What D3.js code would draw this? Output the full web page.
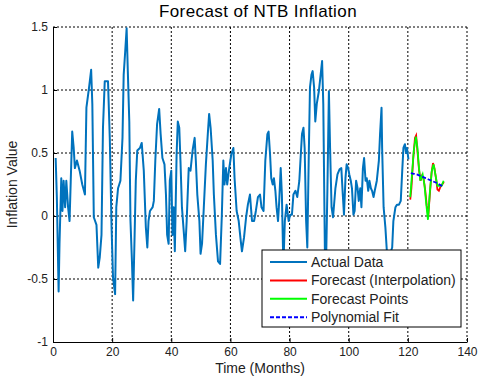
<!DOCTYPE html>
<html>
<head>
<meta charset="utf-8">
<script src="https://cdn.jsdelivr.net/npm/d3@7"></script>
<style>
body { margin: 0; background: #fff; }
svg { font-family: "Liberation Sans", Arial, sans-serif; }
.axis text { font-size: 12px; fill: #222; }
.grid line { stroke: #000; stroke-dasharray: 2,2; stroke-width: 1; }
</style>
</head>
<body>
<svg width="480" height="382"></svg>
<script>
// actual series (month, value)
var actualTime = [0.9, 1.3, 1.9, 2.2, 2.8, 3.2, 3.6, 4.1, 4.5, 5.1, 5.6, 6.0, 6.5, 7.0, 7.4, 8.1, 9.0, 9.9, 10.8, 11.3,
    12.2, 12.9, 13.3, 13.8, 14.7, 15.3, 15.8, 16.4, 16.9, 17.5, 18.6, 19.2, 19.8, 20.3, 21.0, 21.4, 22.0, 22.8, 23.5, 23.9,
    24.4, 24.9, 25.3, 25.8, 26.2, 26.7, 27.1, 27.6, 28.0, 28.5, 29.4, 30.0, 30.7, 31.4, 31.9, 32.3, 32.8, 33.7, 34.1, 34.6,
    35.2, 35.9, 36.4, 37.0, 37.7, 38.2, 38.6, 39.1, 39.5, 40.0, 40.4, 40.8, 41.2, 41.8, 42.2, 42.7, 43.1, 43.6, 44.3, 44.7,
    45.2, 45.9, 46.5, 47.2, 47.9, 48.3, 48.8, 49.5, 49.9, 50.4, 51.0, 51.7, 52.4, 52.8, 53.3, 54.0, 54.4, 55.1, 55.8, 56.5,
    57.1, 57.6, 58.0, 58.5, 58.9, 59.6, 60.3, 61.0, 61.4, 62.1, 62.8, 63.5, 63.9, 64.6, 65.3, 65.9, 66.6, 67.3, 68.0, 68.6,
    69.3, 70.0, 70.5, 71.2, 71.8, 72.5, 72.9, 73.4, 73.8, 74.3, 74.7, 75.2, 75.6, 76.1, 76.5, 77.0, 77.4, 77.9, 78.4, 79.0,
    79.7, 80.2, 80.8, 81.3, 82.0, 82.6, 83.3, 83.8, 84.2, 84.7, 85.1, 85.6, 86.0, 86.5, 86.9, 87.4, 87.8, 88.3, 88.7, 89.2,
    89.9, 90.5, 91.0, 91.4, 92.0, 92.4, 92.8, 93.3, 93.7, 94.2, 94.7, 95.5, 96.2, 96.9, 97.5, 98.0, 98.4, 98.9, 99.3, 99.8,
    100.2, 100.7, 101.1, 101.6, 102.0, 102.5, 103.0, 103.4, 103.9, 104.3, 104.8, 105.2, 105.7, 106.1, 106.6, 107.0, 107.5, 107.9, 108.4, 108.8,
    109.5, 110.2, 110.6, 111.1, 111.3, 111.8, 112.4, 112.9, 113.3, 114.0, 114.7, 115.1, 115.8, 116.3, 117.0, 117.6, 118.1, 118.5, 119.0, 119.4,
    119.7, 120.2];
var actualValue = [0.46, 0.15, -0.60, -0.22, 0.30, 0.04, 0.28, 0.07, 0.28, 0.07, -0.04, 0.28, 0.67, 0.54, 0.38, 0.44, 0.36, 0.25, 0.17, 0.86,
    1.02, 1.16, 0.89, -0.01, -0.07, -0.41, -0.33, -0.15, 0.70, 1.07, 1.07, 0.62, -0.09, -0.49, -0.62, 0.07, 0.22, 0.28, 0.62, 1.12,
    1.30, 1.49, 1.15, 0.75, -0.04, -0.36, -0.67, -0.15, 0.28, 0.52, 0.54, 0.58, 0.36, -0.09, -0.25, -0.04, 0.04, 0.07, 0.12, 0.44,
    0.73, 0.85, 0.65, 0.46, 0.41, 0.17, -0.15, -0.22, 0.28, 0.36, -0.15, 0.07, -0.28, 0.49, 0.75, 0.70, 0.44, 0.07, -0.15, -0.28,
    -0.04, 0.38, 0.36, 0.52, 0.62, 0.44, 0.17, -0.04, -0.30, -0.22, 0.07, 0.41, 0.67, 0.81, 0.70, 0.44, 0.17, -0.15, -0.36, -0.38,
    0.01, 0.44, 0.25, 0.38, 0.25, 0.38, 0.49, 0.54, 0.30, 0.04, -0.04, -0.20, -0.28, -0.17, -0.01, 0.09, 0.17, -0.04, -0.04, 0.04,
    0.15, 0.17, 0.07, 0.04, 0.44, 0.65, 0.67, 0.49, 0.30, 0.25, 0.30, 0.20, 0.07, -0.04, 0.12, 0.38, 0.17, -0.40, -0.04, 0.09,
    -0.04, 0.01, 0.01, 0.17, 0.20, 0.15, 0.28, 0.49, 0.65, 0.70, 0.54, -0.04, -0.25, 0.49, 1.02, 1.12, 1.15, 1.02, 0.75, 0.89,
    0.99, 1.12, 1.23, 0.89, -0.40, -0.30, 0.22, 0.99, 0.54, 0.07, -0.01, 0.22, 0.33, 0.37, 0.38, 0.17, 0.01, 0.30, 0.41, 0.38,
    0.33, 0.28, 0.22, 0.01, 0.04, 0.28, 0.22, 0.12, 0.22, 0.07, 0.38, 0.46, 0.28, 0.30, 0.20, 0.28, 0.22, 0.20, 0.15, 0.20,
    0.28, 0.44, 0.65, 0.86, 0.54, 0.07, -0.09, -0.28, -0.40, -0.30, -0.25, -0.04, 0.07, 0.09, 0.09, 0.12, 0.36, 0.54, 0.57, 0.50,
    0.54, 0.45];

// forecast (interpolation)
var interpTime = [120.8, 121.2, 121.8, 122.4, 122.8, 123.3, 123.8, 124.3, 124.8, 125.3, 125.9, 126.4, 126.9, 127.4, 128.0, 128.5, 129.0, 129.5, 130.0, 130.5, 131.0, 131.6, 132.2];
var interpValue = [0.13, 0.22, 0.45, 0.62, 0.64, 0.50, 0.36, 0.28, 0.32, 0.30, 0.20, 0.08, 0.00, 0.16, 0.34, 0.42, 0.38, 0.30, 0.21, 0.20, 0.23, 0.25, 0.27];

// forecast points
var pointTime = [120.8, 121.3, 122.0, 122.7, 123.2, 123.7, 124.2, 125.0, 125.6, 126.2, 126.8, 127.4, 128.1, 128.7, 129.3, 130.0, 130.7, 131.4, 132.1];
var pointValue = [0.15, 0.30, 0.52, 0.63, 0.55, 0.40, 0.28, 0.33, 0.25, 0.10, -0.03, 0.18, 0.36, 0.41, 0.33, 0.24, 0.24, 0.24, 0.28];

// polynomial fit
var polyTime = [121, 122, 123, 124, 125, 126, 127, 128, 129, 130, 131, 132];
var polyValue = [0.34, 0.335, 0.33, 0.32, 0.31, 0.30, 0.29, 0.28, 0.27, 0.26, 0.245, 0.235];

var xTicks = [0, 20, 40, 60, 80, 100, 120, 140];
var yTicks = [-1, -0.5, 0, 0.5, 1, 1.5];
var legendNames = ["Actual Data", "Forecast (Interpolation)", "Forecast Points", "Polynomial Fit"];
var legendColors = ["#0072BD", "#FF0000", "#00FF00", "#0000FF"];

var svg = d3.select("svg"),
    margin = {top: 27, right: 13, bottom: 40, left: 53},
    width = 480 - margin.left - margin.right,
    height = 382 - margin.top - margin.bottom;
var g = svg.append("g").attr("transform", "translate(" + margin.left + "," + margin.top + ")");

var x = d3.scaleLinear().domain([0, 140]).range([0, width]);
var y = d3.scaleLinear().domain([-1, 1.5]).range([height, 0]);

function pairs(t, v) {
    return t.map(function(d, i) { return [d, v[i]]; });
}

var line = d3.line()
    .x(function(d) { return x(d[0]); })
    .y(function(d) { return y(d[1]); });

// grid
g.append("g").attr("class", "grid")
    .selectAll("line").data(xTicks.slice(1)).enter().append("line")
    .attr("x1", function(d) { return x(d); }).attr("x2", function(d) { return x(d); })
    .attr("y1", 0).attr("y2", height);
g.append("g").attr("class", "grid")
    .selectAll("line").data(yTicks.slice(1)).enter().append("line")
    .attr("y1", function(d) { return y(d); }).attr("y2", function(d) { return y(d); })
    .attr("x1", 0).attr("x2", width);

// axes
g.append("g")
    .attr("class", "axis")
    .attr("transform", "translate(0," + height + ")")
    .call(d3.axisBottom(x).tickValues(xTicks).tickSizeInner(-4).tickSizeOuter(0).tickPadding(5).tickFormat(d3.format("d")))
    .call(function(a) { a.select(".domain").attr("stroke", "#000"); });
g.append("g")
    .attr("class", "axis")
    .call(d3.axisLeft(y).tickValues(yTicks).tickSizeInner(-4).tickSizeOuter(0).tickPadding(5).tickFormat(function(d) { return d; }))
    .call(function(a) { a.select(".domain").attr("stroke", "#000"); });

// series
g.append("path")
    .datum(pairs(actualTime, actualValue))
    .attr("fill", "none")
    .attr("stroke", legendColors[0])
    .attr("stroke-width", 2)
    .attr("stroke-linejoin", "round")
    .attr("d", line);
g.append("path")
    .datum(pairs(interpTime, interpValue))
    .attr("fill", "none")
    .attr("stroke", legendColors[1])
    .attr("stroke-width", 1.8)
    .attr("d", line);
g.append("path")
    .datum(pairs(pointTime, pointValue))
    .attr("fill", "none")
    .attr("stroke", legendColors[2])
    .attr("stroke-width", 1.8)
    .attr("d", line);
g.append("path")
    .datum(pairs(polyTime, polyValue))
    .attr("fill", "none")
    .attr("stroke", legendColors[3])
    .attr("stroke-width", 1.8)
    .attr("stroke-dasharray", "4,2")
    .attr("d", line);

// title and labels
svg.append("text")
    .attr("x", 258).attr("y", 17)
    .attr("text-anchor", "middle")
    .style("font-size", "17px")
    .style("letter-spacing", "0.4px")
    .attr("fill", "#000")
    .text("Forecast of NTB Inflation");
svg.append("text")
    .attr("x", margin.left + width / 2).attr("y", 373)
    .attr("text-anchor", "middle")
    .style("font-size", "14px")
    .attr("fill", "#222")
    .text("Time (Months)");
svg.append("text")
    .attr("transform", "translate(17," + (margin.top + height / 2) + ") rotate(-90)")
    .attr("text-anchor", "middle")
    .style("font-size", "14px")
    .attr("fill", "#222")
    .text("Inflation Value");

// legend
var legend = svg.append("g").attr("class", "legend").attr("transform", "translate(262,250)");
legend.append("rect")
    .attr("width", 199).attr("height", 77)
    .attr("fill", "#fff").attr("stroke", "#000");
var item = legend.selectAll(".item").data(legendNames).enter().append("g")
    .attr("transform", function(d, i) { return "translate(0," + (12 + i * 18.4) + ")"; });
item.append("line")
    .attr("x1", 8).attr("x2", 45)
    .attr("stroke", function(d, i) { return legendColors[i]; })
    .attr("stroke-width", 2)
    .attr("stroke-dasharray", function(d, i) { return i == 3 ? "4,2" : null; });
item.append("text")
    .attr("x", 49).attr("y", 5)
    .style("font-size", "14px")
    .attr("fill", "#222")
    .text(function(d) { return d; });
</script>
</body>
</html>
